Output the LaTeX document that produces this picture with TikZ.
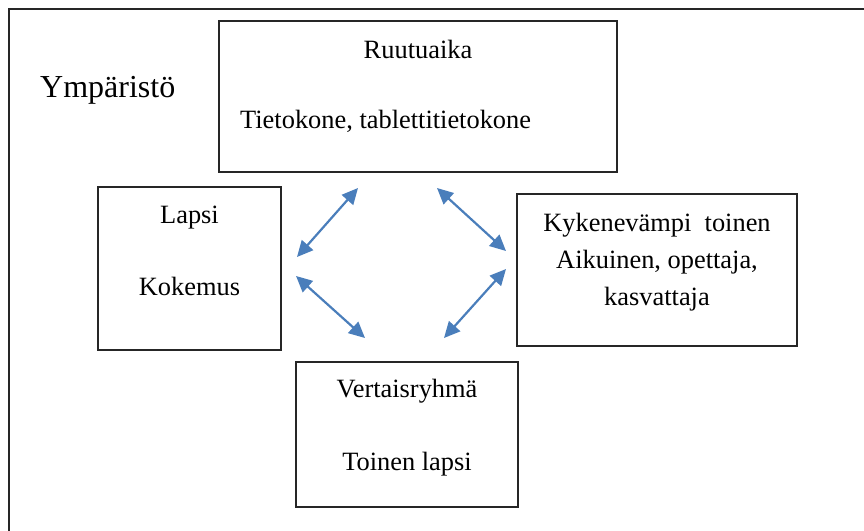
\documentclass[tikz,border=0pt]{standalone}
\usepackage{fontspec}
\setmainfont{Liberation Serif}
\usepackage{xcolor}
\usepackage{tikz}
\usetikzlibrary{arrows.meta}

\definecolor{linkblue}{RGB}{74,126,187}

\begin{document}
\begin{tikzpicture}[
    x=1pt, y=-1pt,
    every node/.style={color=black},
    frame/.style={draw=black!85, line width=1.4pt},
    box/.style={draw=black!85, rectangle, line width=1.3pt, inner sep=0pt},
    lbl/.style={font=\fontsize{26.4}{37}\selectfont, inner sep=0pt, anchor=base},
    title/.style={font=\fontsize{32}{38}\selectfont, inner sep=0pt, anchor=base west},
    link/.style={{Triangle[length=16pt,width=15pt]}-{Triangle[length=16pt,width=15pt]},
                 draw=linkblue, line width=2.2pt}
]
\useasboundingbox (0,0) rectangle (864,530);
\clip (0,0) rectangle (864,530);

% =========================================================
% Environment frame (runs off the page right and below)
% =========================================================
\draw[frame] (9,9) rectangle (900,560);
\node[title] (env) at (40,97) {Ympäristö};

% =========================================================
% Boxes
% =========================================================
\node[box, minimum width=398pt, minimum height=151pt] (ruutu) at (418,96.5) {};
\node[box, minimum width=183pt, minimum height=163pt] (lapsi) at (189.5,268.5) {};
\node[box, minimum width=280pt, minimum height=152pt] (kyke)  at (657,270) {};
\node[box, minimum width=222pt, minimum height=145pt] (vert)  at (407,434.5) {};

% box texts
\node[lbl] (ruutuT) at (418,58) {Ruutuaika};
\node[lbl, anchor=base west] (ruutuB) at (240,128) {Tietokone, tablettitietokone};

\node[lbl] (lapsiT) at (189.5,223) {Lapsi};
\node[lbl] (lapsiB) at (189.5,295) {Kokemus};

\node[lbl] (kykeT) at (657,231) {Kykenevämpi\ \ toinen};
\node[lbl] (kykeM) at (657,268) {Aikuinen, opettaja,};
\node[lbl] (kykeB) at (657,305) {kasvattaja};

\node[lbl] (vertT) at (407,397) {Vertaisryhmä};
\node[lbl] (vertB) at (407,470) {Toinen lapsi};

% =========================================================
% Two-way links between the boxes
% =========================================================
\coordinate (lapsiNE) at (297,257);
\coordinate (ruutuSW) at (358,188);
\coordinate (ruutuSE) at (437,188);
\coordinate (kykeNW)  at (506,251);
\coordinate (lapsiSE) at (296,276);
\coordinate (vertNW)  at (365,338);
\coordinate (kykeSW)  at (506,269);
\coordinate (vertNE)  at (444,338);

\draw[link] (lapsiNE) -- (ruutuSW);
\draw[link] (ruutuSE) -- (kykeNW);
\draw[link] (lapsiSE) -- (vertNW);
\draw[link] (kykeSW) -- (vertNE);

\end{tikzpicture}
\end{document}
